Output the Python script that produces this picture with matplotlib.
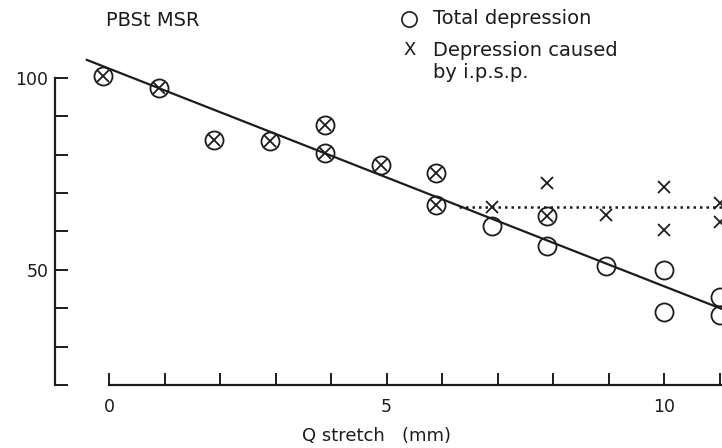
import matplotlib
matplotlib.use("Agg")
import matplotlib.pyplot as plt

# Q stretch (mm) and depression (%)
total_x = [-0.1, 0.9, 1.9, 2.9, 3.9, 3.9, 4.9, 5.9, 5.9, 6.9, 7.9, 7.9, 8.95, 10, 10, 11, 11]
total_y = [100.6, 97.4, 83.9, 83.6, 87.8, 80.5, 77.3, 75.3, 66.9, 61.5, 64.1, 56.3, 50.9, 50.0, 39.1, 43.0, 38.3]

ipsp_x = [-0.1, 0.9, 1.9, 2.9, 3.9, 3.9, 4.9, 5.9, 5.9, 6.9, 7.9, 7.9, 8.95, 10, 10, 11, 11]
ipsp_y = [100.6, 97.4, 83.9, 83.6, 87.8, 80.5, 77.3, 75.3, 66.9, 66.4, 64.1, 72.7, 64.3, 71.7, 60.4, 67.4, 62.6]

# fitted line and i.p.s.p. plateau
fit_x = [-0.4, 11.1]
fit_y = [104.7, 39.5]
plateau_x = [6.3, 11.1]
plateau_y = [66.3, 66.3]

x_ticks = list(range(12))
x_labels = ['0', '', '', '', '', '5', '', '', '', '', '10', '']
y_ticks = [20, 30, 40, 50, 60, 70, 80, 90, 100]
y_labels = ['', '', '', '50', '', '', '', '', '100']

ink = '#1c1c1c'
plt.rcParams['font.family'] = ['DejaVu Sans']

fig = plt.figure(figsize=(7.22, 4.48), dpi=100)
ax = fig.add_axes([0, 0, 1, 1])
ax.set_xlim(-1.964, 11.045)
ax.set_ylim(3.6, 120.3)

ax.plot(fit_x, fit_y, color=ink, lw=1.6, zorder=2)
ax.plot(plateau_x, plateau_y, color=ink, lw=1.8, linestyle=(0, (1, 1.6)), zorder=2)
ax.plot(total_x, total_y, 'o', ms=13, mfc='none', mec=ink, mew=1.3, zorder=3)
ax.plot(ipsp_x, ipsp_y, 'x', ms=8, mec=ink, mew=1.3, zorder=3)

for s in ['top', 'right']:
    ax.spines[s].set_visible(False)
ax.spines['left'].set_position(('data', -0.97))
ax.spines['left'].set_bounds(20, 100)
ax.spines['bottom'].set_position(('data', 20))
ax.spines['bottom'].set_bounds(0, 11.1)
for s in ['left', 'bottom']:
    ax.spines[s].set_linewidth(1.6)
    ax.spines[s].set_color(ink)

ax.set_xticks(x_ticks)
ax.set_xticklabels(x_labels)
ax.set_yticks(y_ticks)
ax.set_yticklabels(y_labels)
ax.tick_params(direction='in', length=9, width=1.4, colors=ink, labelsize=12.5)
ax.tick_params(axis='x', pad=9)
ax.tick_params(axis='y', pad=5)

fig.text(0.211, 0.955, 'PBSt MSR', ha='center', va='center', fontsize=14, color=ink)
fig.text(0.522, 0.027, 'Q stretch   (mm)', ha='center', va='center', fontsize=13, color=ink)

# legend drawn as text next to the axes
ax.plot([0.566], [0.958], 'o', ms=11, mfc='none', mec=ink, mew=1.2,
        transform=fig.transFigure, clip_on=False)
fig.text(0.568, 0.888, 'X', ha='center', va='center', fontsize=13, color=ink)
fig.text(0.600, 0.958, 'Total depression', ha='left', va='center', fontsize=14, color=ink)
fig.text(0.600, 0.888, 'Depression caused', ha='left', va='center', fontsize=14, color=ink)
fig.text(0.600, 0.839, 'by i.p.s.p.', ha='left', va='center', fontsize=14, color=ink)

fig.savefig('out.png', dpi=100)
